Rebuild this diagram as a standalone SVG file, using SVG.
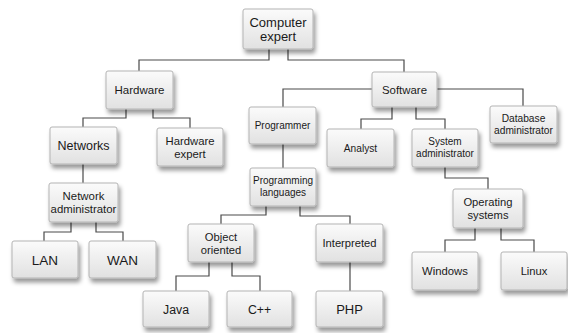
<svg xmlns="http://www.w3.org/2000/svg" width="568" height="333" viewBox="0 0 568 333">
<defs>
<linearGradient id="g" x1="0" y1="0" x2="0" y2="1">
<stop offset="0" stop-color="#fbfbfb"/>
<stop offset="1" stop-color="#e1e1e1"/>
</linearGradient>
<filter id="sh" x="-20%" y="-20%" width="150%" height="170%">
<feDropShadow dx="2" dy="4" stdDeviation="2.3" flood-color="#000" flood-opacity="0.4"/>
</filter>
</defs>
<style>
.n rect{fill:url(#g);stroke:#b4b4b4;stroke-width:1;filter:url(#sh)}
.n text{font-family:"Liberation Sans",Arial,sans-serif;fill:#1a1a1a;text-anchor:middle}
#conn path{fill:none;stroke:#4a4a4a;stroke-width:1.2}
</style>
<rect width="568" height="333" fill="#fff"/>
<g id="conn">
<path d="M269 49V60H139V71"/>
<path d="M288 49V60H404V72"/>
<path d="M126 109V118H83V127"/>
<path d="M153 109V118H190V128"/>
<path d="M83 164V183"/>
<path d="M71 222V232H44V241"/>
<path d="M96 222V232H123V241"/>
<path d="M372 89H283V107"/>
<path d="M437 89H523V106"/>
<path d="M392 107V119H361V129"/>
<path d="M416 107V119H445V129"/>
<path d="M283 144V168"/>
<path d="M266 206V215H221V224"/>
<path d="M300 206V216H350V224"/>
<path d="M209 262V276H176V291"/>
<path d="M232 262V276H260V291"/>
<path d="M350 262V291"/>
<path d="M445 167V178H488V189"/>
<path d="M475 228V240H445V252"/>
<path d="M501 228V240H534V252"/>
</g>
<g id="computer" class="n"><rect x="243" y="9" width="70" height="40" rx="2"/><text font-size="13" x="278" y="26.5">Computer</text><text font-size="13" x="278" y="40.5">expert</text></g>
<g id="hardware" class="n"><rect x="106" y="71" width="67" height="38" rx="2"/><text font-size="11.5" x="139.5" y="94">Hardware</text></g>
<g id="software" class="n"><rect x="372" y="72" width="65" height="35" rx="2"/><text font-size="11.4" x="404.5" y="93.5">Software</text></g>
<g id="networks" class="n"><rect x="50" y="127" width="67" height="37" rx="2"/><text font-size="12.5" x="83.5" y="150">Networks</text></g>
<g id="hwexpert" class="n"><rect x="157" y="128" width="66" height="38" rx="2"/><text font-size="11.3" x="190" y="144.5">Hardware</text><text font-size="11.3" x="190" y="157.5">expert</text></g>
<g id="netadmin" class="n"><rect x="49" y="183" width="69" height="39" rx="2"/><text font-size="11.4" x="83.5" y="200">Network</text><text font-size="11.4" x="83.5" y="213">administrator</text></g>
<g id="lan" class="n"><rect x="12" y="241" width="66" height="37" rx="2"/><text font-size="13.5" x="45" y="264.5">LAN</text></g>
<g id="wan" class="n"><rect x="89" y="241" width="67" height="37" rx="2"/><text font-size="13.5" x="122.5" y="264.5">WAN</text></g>
<g id="programmer" class="n"><rect x="249" y="107" width="67" height="37" rx="2"/><text font-size="10" x="282.5" y="129">Programmer</text></g>
<g id="proglang" class="n"><rect x="250" y="168" width="66" height="38" rx="2"/><text font-size="10" x="283" y="184">Programming</text><text font-size="10" x="283" y="196">languages</text></g>
<g id="objoriented" class="n"><rect x="188" y="224" width="66" height="38" rx="2"/><text font-size="11.2" x="221" y="240.5">Object</text><text font-size="11.2" x="221" y="253.5">oriented</text></g>
<g id="java" class="n"><rect x="143" y="291" width="66" height="36" rx="2"/><text font-size="12.3" x="176" y="313.5">Java</text></g>
<g id="cpp" class="n"><rect x="227" y="291" width="65" height="36" rx="2"/><text font-size="12.3" x="259.5" y="313.5">C++</text></g>
<g id="interpreted" class="n"><rect x="316" y="224" width="67" height="38" rx="2"/><text font-size="11.2" x="349.5" y="247">Interpreted</text></g>
<g id="php" class="n"><rect x="316" y="291" width="67" height="36" rx="2"/><text font-size="13" x="349.5" y="313.5">PHP</text></g>
<g id="analyst" class="n"><rect x="327" y="129" width="67" height="38" rx="2"/><text font-size="10.2" x="360.5" y="151.5">Analyst</text></g>
<g id="sysadmin" class="n"><rect x="412" y="129" width="66" height="38" rx="2"/><text font-size="10" x="445" y="145">System</text><text font-size="10" x="445" y="157">administrator</text></g>
<g id="dbadmin" class="n"><rect x="490" y="106" width="67" height="37" rx="2"/><text font-size="10.2" x="523.5" y="122">Database</text><text font-size="10.2" x="523.5" y="134">administrator</text></g>
<g id="opsys" class="n"><rect x="453" y="189" width="70" height="39" rx="2"/><text font-size="11.2" x="488" y="206">Operating</text><text font-size="11.2" x="488" y="219">systems</text></g>
<g id="windows" class="n"><rect x="412" y="252" width="66" height="38" rx="2"/><text font-size="11.3" x="445" y="275">Windows</text></g>
<g id="linux" class="n"><rect x="501" y="252" width="66" height="38" rx="2"/><text font-size="11.2" x="534" y="275">Linux</text></g>
</svg>
